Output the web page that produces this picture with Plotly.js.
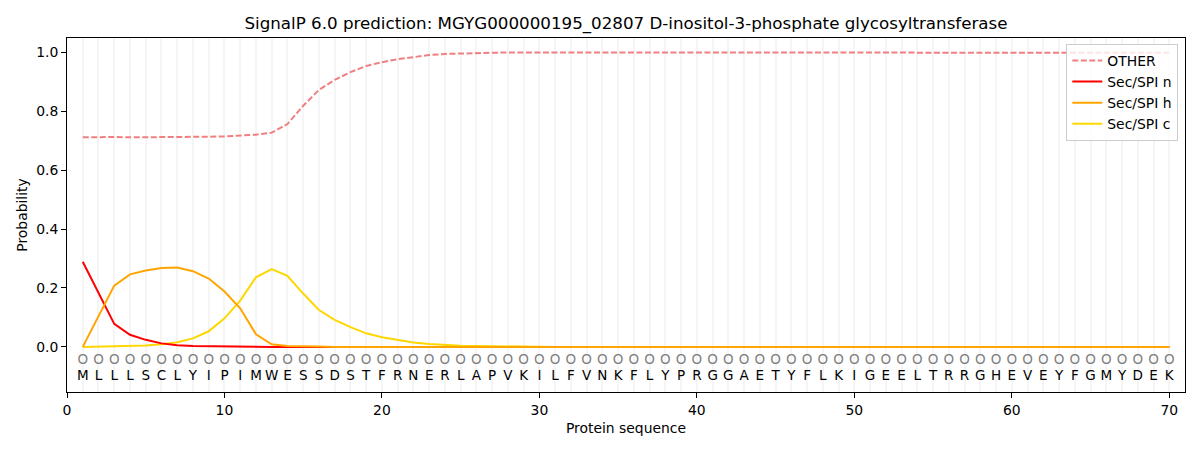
<!DOCTYPE html>
<html>
<head>
<meta charset="utf-8">
<title>SignalP 6.0 prediction</title>
<script src="https://cdn.plot.ly/plotly-3.0.1.min.js"></script>
<style>
  html, body { margin: 0; padding: 0; background: #ffffff; }
  #chart { width: 1200px; height: 450px; }
</style>
</head>
<body>
<div id="chart"></div>
<script>
"use strict";

// Protein sequence and per-residue predicted label (O = other)
var SEQUENCE = "MLLLSCLYIPIMWESSDSTFRNERLAPVKILFVNKFLYPRGGAETYFLKIGEELTRRGHEVEYFGMYDEK";
var LABELS = "OOOOOOOOOOOOOOOOOOOOOOOOOOOOOOOOOOOOOOOOOOOOOOOOOOOOOOOOOOOOOOOOOOOOOO";

var otherProb = [
  0.711, 0.712, 0.712, 0.711, 0.711, 0.711, 0.712, 0.713, 0.713, 0.714,
  0.716, 0.720, 0.727, 0.756, 0.818, 0.872, 0.906, 0.932, 0.953, 0.966,
  0.976, 0.984, 0.990, 0.994, 0.996, 0.997, 0.998, 0.999, 0.999, 0.999,
  0.999, 0.999, 0.999, 0.999, 0.999, 0.999, 0.999, 0.999, 0.999, 0.999,
  0.999, 0.999, 0.999, 0.999, 0.999, 0.999, 0.999, 0.999, 0.999, 0.999,
  0.999, 0.999, 0.999, 0.999, 0.999, 0.999, 0.999, 0.999, 0.999, 0.999,
  0.999, 0.999, 0.999, 0.999, 0.999, 0.999, 0.999, 0.999, 0.999, 0.998
];
var secNProb = [
  0.289, 0.182, 0.078, 0.041, 0.024, 0.012, 0.006, 0.003, 0.002, 0.001,
  0.001, 0, 0, 0, 0, 0, 0, 0, 0, 0,
  0, 0, 0, 0, 0, 0, 0, 0, 0, 0,
  0, 0, 0, 0, 0, 0, 0, 0, 0, 0,
  0, 0, 0, 0, 0, 0, 0, 0, 0, 0,
  0, 0, 0, 0, 0, 0, 0, 0, 0, 0,
  0, 0, 0, 0, 0, 0, 0, 0, 0, 0
];
var secHProb = [
  0.000, 0.103, 0.208, 0.246, 0.259, 0.268, 0.269, 0.257, 0.232, 0.188,
  0.131, 0.043, 0.009, 0.003, 0.001, 0.001, 0, 0, 0, 0,
  0, 0, 0, 0, 0, 0, 0, 0, 0, 0,
  0, 0, 0, 0, 0, 0, 0, 0, 0, 0,
  0, 0, 0, 0, 0, 0, 0, 0, 0, 0,
  0, 0, 0, 0, 0, 0, 0, 0, 0, 0,
  0, 0, 0, 0, 0, 0, 0, 0, 0, 0
];
var secCProb = [
  0.000, 0.001, 0.002, 0.003, 0.005, 0.009, 0.016, 0.029, 0.053, 0.097,
  0.157, 0.236, 0.264, 0.241, 0.181, 0.125, 0.092, 0.067, 0.046, 0.033,
  0.023, 0.015, 0.010, 0.006, 0.004, 0.003, 0.002, 0.001, 0.001, 0,
  0, 0, 0, 0, 0, 0, 0, 0, 0, 0,
  0, 0, 0, 0, 0, 0, 0, 0, 0, 0,
  0, 0, 0, 0, 0, 0, 0, 0, 0, 0,
  0, 0, 0, 0, 0, 0, 0, 0, 0, 0
];

var FONT = "DejaVu Sans, Liberation Sans, sans-serif";
var GRID = "#f5f5f5";

var residues = SEQUENCE.split("");
var labels = LABELS.split("");
var positions = residues.map(function (_, i) { return i + 1; });

/** Build one probability line trace. */
function probLine(name, values, color, dash, rank) {
  return {
    type: "scatter",
    mode: "lines",
    name: name,
    x: positions,
    y: values,
    legendrank: rank,
    line: { color: color, width: 2, dash: dash || "solid" },
    hoverinfo: "x+y+name"
  };
}

/** Build a row of per-residue text drawn at a fixed probability level. */
function textRow(texts, level, color) {
  return {
    type: "scatter",
    mode: "text",
    x: positions,
    y: texts.map(function () { return level; }),
    text: texts,
    textposition: "middle center",
    textfont: { family: FONT, size: 13.5, color: color },
    showlegend: false,
    hoverinfo: "skip"
  };
}

// Yellow is drawn first so the orange line sits on top along the zero tail
var traces = [
  probLine("OTHER", otherProb, "#f08080", "6px,2.5px", 1),
  probLine("Sec/SPI c", secCProb, "#ffd700", null, 4),
  probLine("Sec/SPI n", secNProb, "#ff0000", null, 2),
  probLine("Sec/SPI h", secHProb, "#ffa500", null, 3),
  textRow(labels, -0.047, "#808080"),
  textRow(residues, -0.1, "#000000")
];

var layout = {
  width: 1200,
  height: 450,
  margin: { l: 67, r: 15, t: 38, b: 58 },
  paper_bgcolor: "#ffffff",
  plot_bgcolor: "#ffffff",
  font: { family: FONT, size: 13.9, color: "#000000" },
  showlegend: true,
  title: {
    text: "SignalP 6.0 prediction: MGYG000000195_02807 D-inositol-3-phosphate glycosyltransferase",
    font: { family: FONT, size: 16.7, color: "#000000" },
    x: 0.5,
    xref: "paper",
    xanchor: "center",
    y: 0.949,
    yref: "container",
    yanchor: "middle"
  },
  xaxis: {
    range: [0, 71],
    tick0: 0,
    dtick: 10,
    ticks: "outside",
    ticklen: 5,
    tickwidth: 1,
    tickcolor: "#000000",
    showline: true,
    linecolor: "#000000",
    linewidth: 1,
    mirror: true,
    zeroline: false,
    showgrid: true,
    gridcolor: GRID,
    gridwidth: 1.8,
    minor: { tick0: 0, dtick: 1, showgrid: true, gridcolor: GRID, gridwidth: 1.8 },
    title: { text: "Protein sequence", font: { size: 13.9 }, standoff: 6 },
    automargin: false
  },
  yaxis: {
    range: [-0.153, 1.048],
    tick0: 0,
    dtick: 0.2,
    tickformat: ".1f",
    ticks: "outside",
    ticklen: 5,
    tickwidth: 1,
    tickcolor: "#000000",
    showline: true,
    linecolor: "#000000",
    linewidth: 1,
    mirror: true,
    zeroline: false,
    showgrid: false,
    title: { text: "Probability", font: { size: 13.9 }, standoff: 5 },
    automargin: false
  },
  legend: {
    x: 0.994,
    y: 0.983,
    xanchor: "right",
    yanchor: "top",
    bgcolor: "rgba(255,255,255,0.8)",
    bordercolor: "#cccccc",
    borderwidth: 1,
    font: { family: FONT, size: 13.9 },
    traceorder: "normal"
  }
};

Plotly.newPlot("chart", traces, layout, { displayModeBar: false, responsive: false });
</script>
</body>
</html>
